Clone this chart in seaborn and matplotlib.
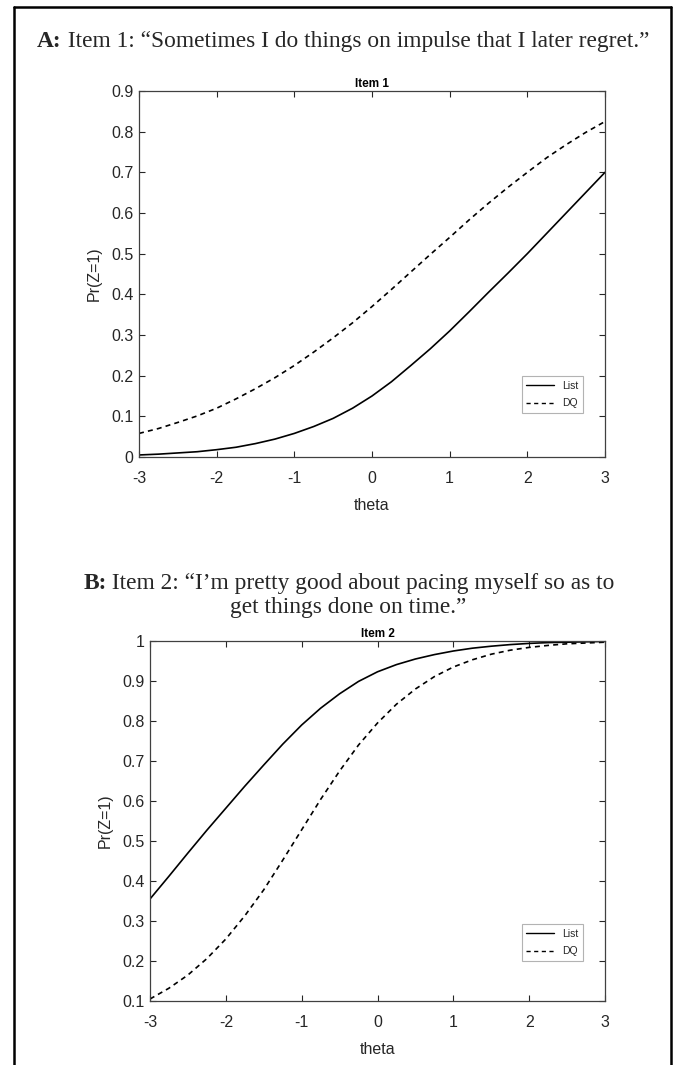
import pandas as pd
import matplotlib
matplotlib.use('Agg')
import matplotlib.pyplot as plt
from matplotlib.lines import Line2D
import seaborn as sns

# values, theta in steps of 0.25
theta = [-3, -2.75, -2.5, -2.25, -2, -1.75, -1.5, -1.25, -1, -0.75, -0.5, -0.25,
         0, 0.25, 0.5, 0.75, 1, 1.25, 1.5, 1.75, 2, 2.25, 2.5, 2.75, 3]
item1_list = [0.005, 0.007, 0.010, 0.013, 0.018, 0.024, 0.033, 0.044, 0.058, 0.075, 0.095, 0.120,
              0.150, 0.185, 0.225, 0.266, 0.310, 0.357, 0.405, 0.452, 0.500, 0.550, 0.600, 0.650, 0.700]
item1_dq = [0.058, 0.070, 0.085, 0.101, 0.120, 0.143, 0.168, 0.195, 0.225, 0.258, 0.293, 0.330,
            0.370, 0.412, 0.455, 0.498, 0.540, 0.583, 0.624, 0.663, 0.700, 0.736, 0.768, 0.798, 0.825]
item2_list = [0.355, 0.412, 0.470, 0.527, 0.582, 0.637, 0.690, 0.742, 0.790, 0.832, 0.868, 0.899,
              0.923, 0.941, 0.955, 0.966, 0.975, 0.982, 0.987, 0.991, 0.994, 0.996, 0.997, 0.998, 0.999]
item2_dq = [0.105, 0.132, 0.165, 0.206, 0.255, 0.313, 0.378, 0.452, 0.528, 0.604, 0.675, 0.740,
            0.795, 0.842, 0.880, 0.911, 0.935, 0.953, 0.967, 0.977, 0.984, 0.989, 0.993, 0.995, 0.997]

series_names = ['List', 'DQ']
xticks = [-3, -2, -1, 0, 1, 2, 3]
yticks1 = [0, 0.1, 0.2, 0.3, 0.4, 0.5, 0.6, 0.7, 0.8, 0.9]
ytick_labels1 = ['0', '0.1', '0.2', '0.3', '0.4', '0.5', '0.6', '0.7', '0.8', '0.9']
yticks2 = [0.1, 0.2, 0.3, 0.4, 0.5, 0.6, 0.7, 0.8, 0.9, 1.0]
ytick_labels2 = ['0.1', '0.2', '0.3', '0.4', '0.5', '0.6', '0.7', '0.8', '0.9', '1']

sns.set_theme(style='ticks')
plt.rcParams['font.family'] = ['Liberation Sans', 'DejaVu Sans']

W, H = 683, 1065
fig = plt.figure(figsize=(W / 100, H / 100), dpi=100)
fig.patch.set_facecolor('white')

grey = '#262626'
dash = (3, 2.5)


def px_axes(left, right, top, bottom):
    return fig.add_axes([left / W, 1 - bottom / H, (right - left) / W, (bottom - top) / H])


def draw_panel(ax, list_vals, dq_vals, title, yticks, ylabels, legend_anchor):
    n = len(theta)
    df = pd.DataFrame({
        'theta': theta + theta,
        'p': list_vals + dq_vals,
        'series': [series_names[0]] * n + [series_names[1]] * n,
    })
    sns.lineplot(data=df, x='theta', y='p', style='series',
                 dashes={'List': '', 'DQ': dash},
                 color='black', linewidth=1.2, legend=False, ax=ax)
    ax.set_xlim(-3, 3)
    ax.set_ylim(yticks[0], yticks[-1])
    ax.set_xticks(xticks)
    ax.set_xticklabels([str(t) for t in xticks])
    ax.set_yticks(yticks)
    ax.set_yticklabels(ylabels)
    ax.tick_params(direction='in', length=4, width=0.8, top=True, right=True,
                   labelsize=11.5, colors=grey, labelcolor=grey)
    ax.tick_params(axis='x', pad=10)
    ax.tick_params(axis='y', pad=4)
    for sp in ax.spines.values():
        sp.set_visible(True)
        sp.set_color('#404040')
        sp.set_linewidth(0.9)
    ax.set_xlabel('theta', fontsize=11.5, color=grey, labelpad=9)
    ax.set_ylabel('Pr(Z=1)', fontsize=11.5, color=grey, labelpad=7)
    ax.set_title(title, fontsize=8.5, fontweight='bold', color='black', pad=3)
    handles = [Line2D([], [], color='black', lw=1.0),
               Line2D([], [], color='black', lw=1.0, dashes=dash)]
    leg = ax.legend(handles, series_names, loc='lower right', bbox_to_anchor=legend_anchor,
                    fontsize=7.5, frameon=True, fancybox=False, handlelength=2.7,
                    handletextpad=0.75, borderpad=0.45, labelspacing=0.75, borderaxespad=0)
    leg.get_frame().set_edgecolor('#a0a0a0')
    leg.get_frame().set_linewidth(0.8)


ax1 = px_axes(139, 605, 91, 457)
draw_panel(ax1, item1_list, item1_dq, 'Item 1', yticks1, ytick_labels1, (0.953, 0.12))

ax2 = px_axes(150, 605, 641, 1001)
draw_panel(ax2, item2_list, item2_dq, 'Item 2', yticks2, ytick_labels2, (0.952, 0.111))

# panel headings: bold lead-in, normal rest, on one baseline and centred as one line
renderer = fig.canvas.get_renderer()
serif = ['Liberation Serif', 'DejaVu Serif']
head_size = 16.8


def heading(base_px, lead, rest, cx_px):
    y = 1 - base_px / H
    t1 = fig.text(0, y, lead, fontsize=head_size, fontweight='bold', family=serif, va='baseline')
    t2 = fig.text(0, y, rest, fontsize=head_size, family=serif, va='baseline')
    w1 = t1.get_window_extent(renderer).width
    w2 = t2.get_window_extent(renderer).width
    x0 = cx_px - (w1 + w2) / 2
    t1.set_x(x0 / W)
    t2.set_x((x0 + w1) / W)


heading(47, 'A:', ' Item 1: \u201cSometimes I do things on impulse that I later regret.\u201d', 343)
heading(589, 'B:', ' Item 2: \u201cI\u2019m pretty good about pacing myself so as to', 349)
fig.text(348 / W, 1 - 613 / H, 'get things done on time.\u201d', fontsize=head_size, family=serif,
         ha='center', va='baseline')

# outer frame, open at the bottom
for xs, ys in [((14, 14), (6.5, H + 5)), ((14, 671), (6.5, 6.5)), ((671, 671), (6.5, H + 5))]:
    fig.add_artist(Line2D([x / W for x in xs], [1 - y / H for y in ys], color='black', lw=1.8))

fig.savefig('out.png', dpi=100)
